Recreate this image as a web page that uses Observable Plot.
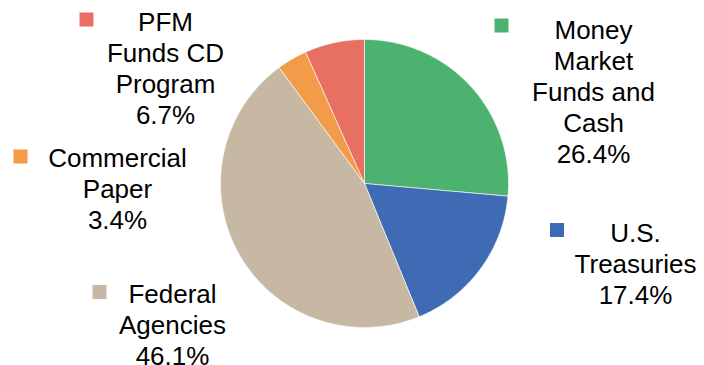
<!DOCTYPE html>
<html>
<head>
<meta charset="utf-8">
<script src="https://cdn.jsdelivr.net/npm/d3@7"></script>
<script src="https://cdn.jsdelivr.net/npm/@observablehq/plot@0.6"></script>
<style>
  html, body { margin: 0; padding: 0; background: #fff; }
  #chart svg { display: block; font-family: "Liberation Sans", Arial, sans-serif; }
</style>
</head>
<body>
<div id="chart"></div>
<script>
// ---- data ----
const categories = ["Money Market Funds and Cash", "U.S. Treasuries", "Federal Agencies", "Commercial Paper", "PFM Funds CD Program"];
const shares = [26.4, 17.4, 46.1, 3.4, 6.7];
const labelLines = [
  ["Money", "Market", "Funds and", "Cash"],
  ["U.S.", "Treasuries"],
  ["Federal", "Agencies"],
  ["Commercial", "Paper"],
  ["PFM", "Funds CD", "Program"]
];
const colors = ["#4bb270", "#3f6bb4", "#c7b8a4", "#f39b48", "#e87062"];

// ---- layout (pixels) ----
const W = 704, H = 365;
const pie = {cx: 364, cy: 183, r: 144};
const lineH = 30.8;
const labelAnchor = [ // text centre x, first-line centre y
  [593, 29], [635, 232], [172, 293], [117, 157], [165, 21]
];
const markerAnchor = [
  [501, 25], [556.5, 229.5], [99, 291.5], [20, 156], [86, 19]
];

// ---- slices from the values ----
const total = d3.sum(shares);
let cum = 0;
const slicePts = [];
categories.forEach((cat, i) => {
  const a0 = cum / total * 2 * Math.PI;
  cum += shares[i];
  const a1 = cum / total * 2 * Math.PI;
  const n = Math.max(2, Math.ceil((a1 - a0) / (Math.PI / 360)));
  slicePts.push({cat, x: pie.cx, y: pie.cy});
  for (let k = 0; k <= n; k++) {
    const a = a0 + (a1 - a0) * k / n;
    slicePts.push({cat, x: pie.cx + pie.r * Math.sin(a), y: pie.cy - pie.r * Math.cos(a)});
  }
  slicePts.push({cat, x: pie.cx, y: pie.cy});
});

const labels = categories.map((cat, i) => {
  const lines = [...labelLines[i], shares[i].toFixed(1) + "%"];
  return {
    cat,
    text: lines.join("\n"),
    x: labelAnchor[i][0],
    y: labelAnchor[i][1] + (lines.length - 1) / 2 * lineH
  };
});
const markers = categories.map((cat, i) => ({cat, x: markerAnchor[i][0], y: markerAnchor[i][1]}));

const fs = 26;
const chart = Plot.plot({
  width: W,
  height: H,
  margin: 0,
  x: {domain: [0, W], range: [0, W], axis: null},
  y: {domain: [0, H], range: [0, H], axis: null},
  color: {domain: categories, range: colors},
  marks: [
    Plot.line(slicePts, {x: "x", y: "y", z: "cat", fill: "cat", stroke: "white", strokeWidth: 0.6, curve: "linear"}),
    Plot.dot(markers, {x: "x", y: "y", fill: "cat", symbol: "square", r: 14 / Math.sqrt(Math.PI), stroke: null}),
    Plot.text(labels, {x: "x", y: "y", text: "text", fill: "#000", fontSize: fs, lineHeight: lineH / fs, lineAnchor: "middle", textAnchor: "middle"})
  ]
});
document.getElementById("chart").appendChild(chart);
</script>
</body>
</html>
